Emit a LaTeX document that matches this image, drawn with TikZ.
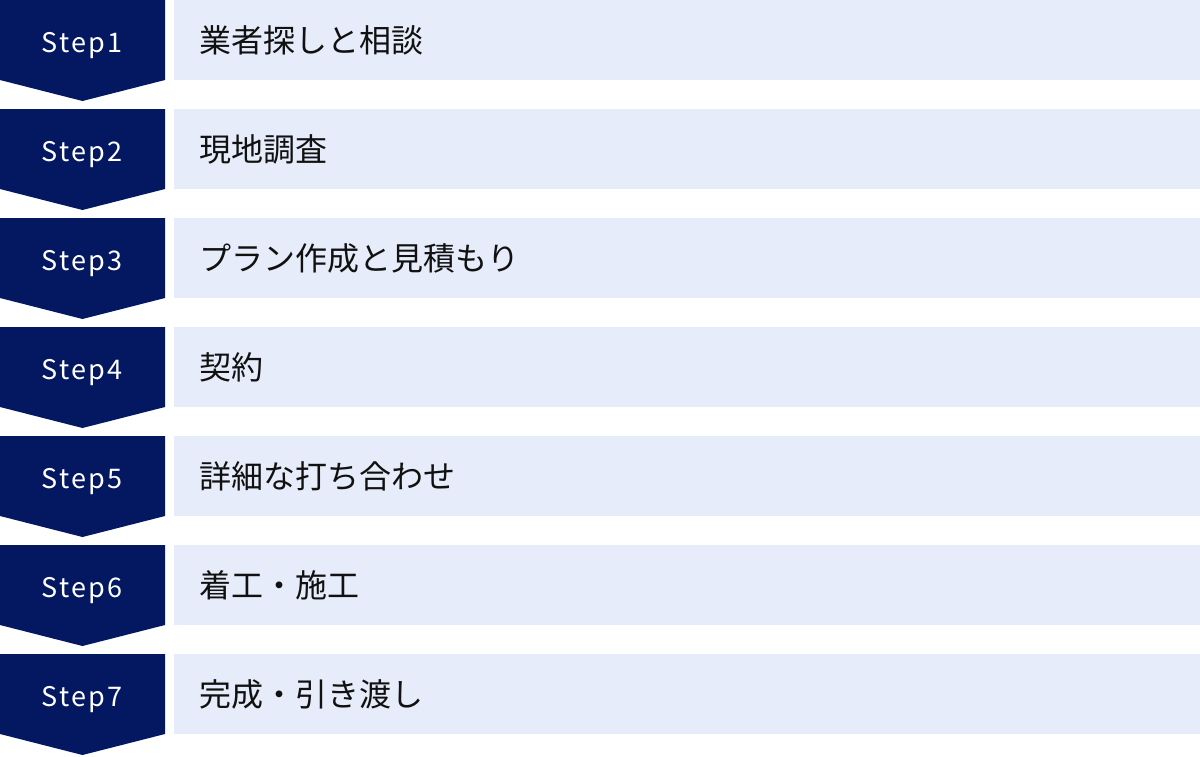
\documentclass[tikz,border=0pt]{standalone}
\usepackage{fontspec}
\setmainfont{Noto Sans CJK JP}
\usetikzlibrary{positioning}
\definecolor{stepnavy}{HTML}{041862}
\definecolor{steppale}{HTML}{E6ECF9}
\definecolor{taskink}{HTML}{111111}
\tikzset{
  stepbadge/.style={fill=stepnavy},
  taskbar/.style={fill=steppale},
  steplabel/.style={anchor=base, text=white,
    font=\fontsize{27}{27}\selectfont\addfontfeatures{LetterSpace=8}},
  tasklabel/.style={anchor=base west, text=taskink,
    font=\fontsize{32}{32}\selectfont}
}
\begin{document}
\begin{tikzpicture}[x=1pt,y=-1pt]
\useasboundingbox (0,0) rectangle (1200,756);

\foreach \n/\task in {1/業者探しと相談, 2/現地調査, 3/プラン作成と見積もり, 4/契約,
  5/詳細な打ち合わせ, 6/着工・施工, 7/完成・引き渡し}{
  \pgfmathsetmacro{\rowy}{(\n-1)*109}
  % badge with chevron
  \fill[stepbadge] (0,\rowy) -- (165,\rowy) -- (165,\rowy+80)
    -- (82.5,\rowy+101) -- (0,\rowy+80) -- cycle;
  % pale bar
  \fill[taskbar] (174,\rowy) rectangle (1200,\rowy+80);
  \node[steplabel] (step\n) at (82,\rowy+52.5) {Step\n};
  \node[tasklabel] (task\n) at (196,\rowy+52) {\task};
}

\end{tikzpicture}
\end{document}
